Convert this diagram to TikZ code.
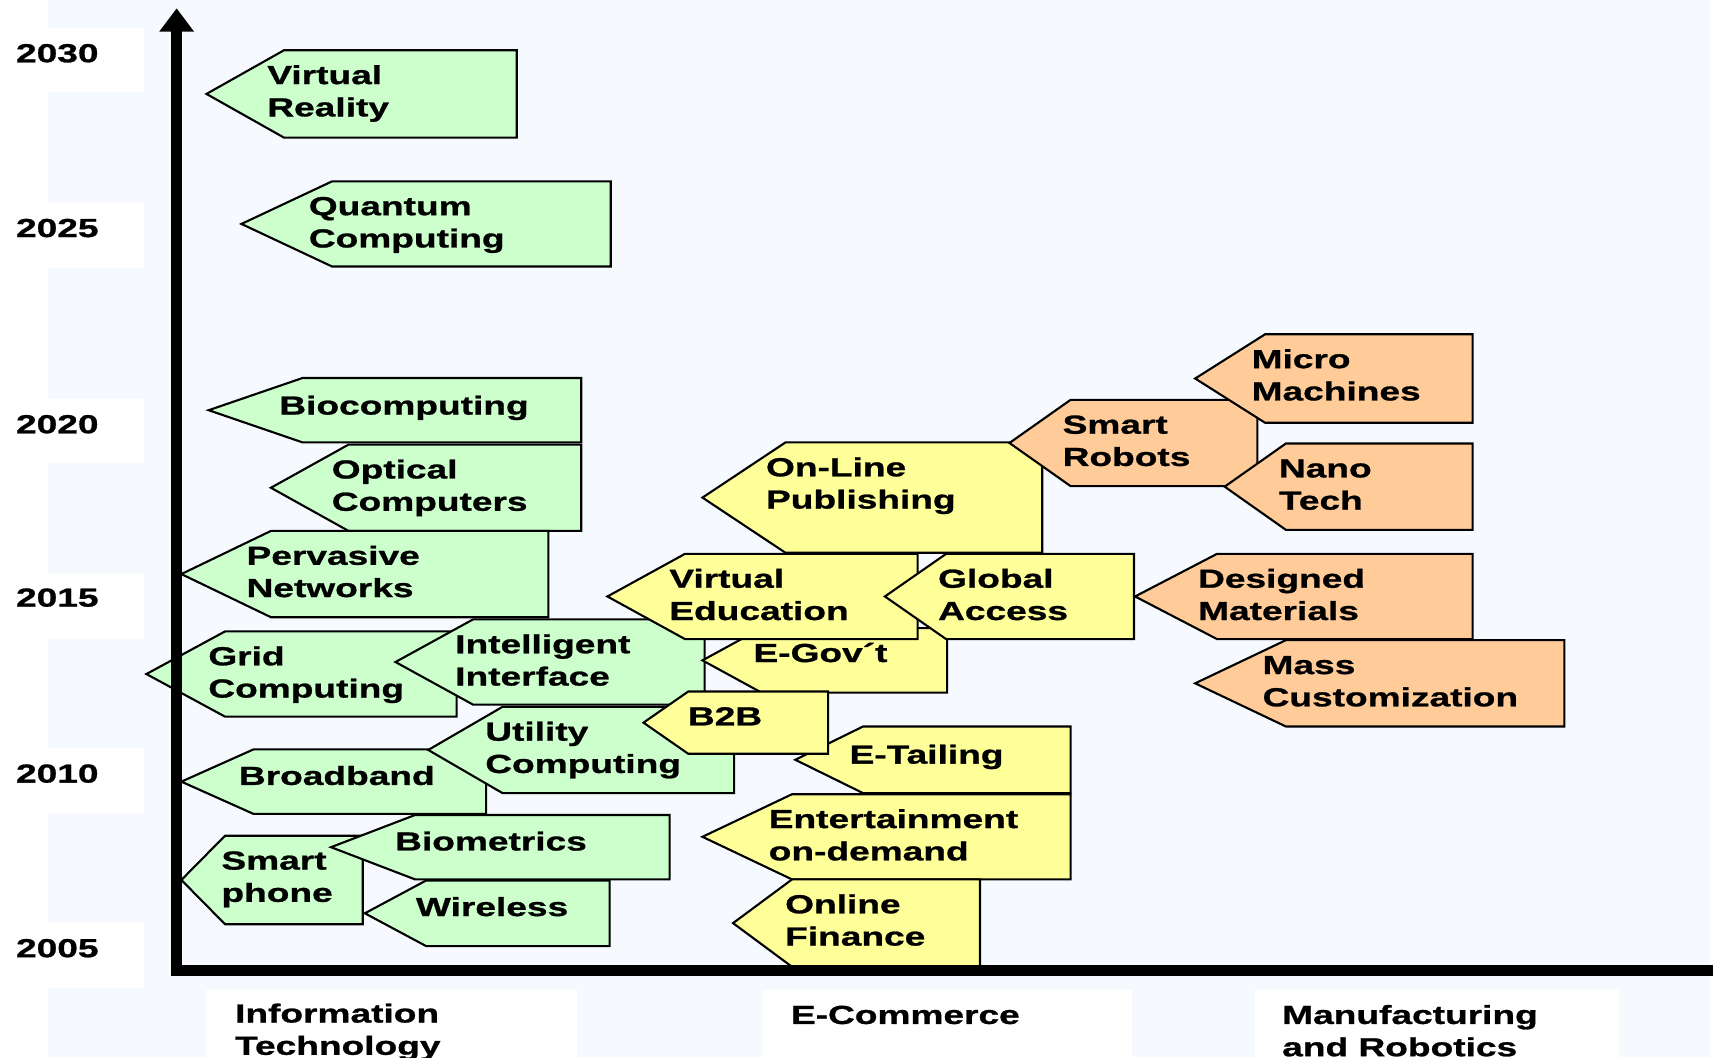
\documentclass[tikz,border=0pt]{standalone}
\usepackage{fontspec}
\newfontfamily\labfont{Liberation Sans Bold}[FakeStretch=1.42, FakeBold=1]
\usetikzlibrary{arrows.meta}
\definecolor{bgblue}{HTML}{F6FAFE}
\definecolor{tgreen}{HTML}{CCFFCC}
\definecolor{tyellow}{HTML}{FFFF99}
\definecolor{torange}{HTML}{FFCC99}
\newcommand\ml[1]{\begin{tabular}[t]{@{}l@{}}#1\end{tabular}}
\newcommand\tyoff{31}
% #1 name, #2 fill, #3 tip x, #4 corner x, #5 top, #6 right, #7 bottom, #8 text x, #9 text
\newcommand\tagbox[9]{%
  \filldraw[tagline, fill=#2] ({#3},{(#5+#7)/2}) -- ({#4},{#5}) -- ({#6},{#5}) -- ({#6},{#7}) -- ({#4},{#7}) -- cycle;
  \node[lab, anchor=base west] (#1) at ({#8},{#5+\tyoff}) {\ml{#9}};
}
\begin{document}
\begin{tikzpicture}[x=0.01cm, y=-0.01cm,
  tagline/.style={draw=black, line width=0.55pt, line join=miter},
  lab/.style={inner sep=0pt, font=\labfont\fontsize{6.8}{8.4}\selectfont},
  axis/.style={line width=0.1cm, line join=miter},
  whitebox/.style={fill=white, draw=none}]
\useasboundingbox (0,0) rectangle (1568,968);
\fill[bgblue] (43.8,0) rectangle (1565,968);
% year label boxes
\fill[whitebox] (0,26) rectangle (132,84);
\fill[whitebox] (0,185.5) rectangle (132,245);
\fill[whitebox] (0,365.5) rectangle (132,424);
\fill[whitebox] (0,525) rectangle (132,585);
\fill[whitebox] (0,685) rectangle (132,744.5);
\fill[whitebox] (0,843.6) rectangle (132,904.6);
\node[lab, anchor=base west] (y2030) at (14,57) {2030};
\node[lab, anchor=base west] (y2025) at (14,217) {2025};
\node[lab, anchor=base west] (y2020) at (14,396.6) {2020};
\node[lab, anchor=base west] (y2015) at (14,555.3) {2015};
\node[lab, anchor=base west] (y2010) at (14,716.4) {2010};
\node[lab, anchor=base west] (y2005) at (14,876.2) {2005};
% category boxes
\fill[whitebox] (189,906) rectangle (528.4,968);
\fill[whitebox] (697.3,906) rectangle (1036.4,968);
\fill[whitebox] (1149,906) rectangle (1481.6,968);
\node[lab, anchor=base west] (catit) at (214.5,936) {\ml{Information\\Technology}};
\node[lab, anchor=base west] (catec) at (723.3,937.3) {\ml{E-Commerce}};
\node[lab, anchor=base west] (catmr) at (1173,937.3) {\ml{Manufacturing\\and Robotics}};
% green: information technology
\tagbox{vr}{tgreen}{189}{260}{46}{473}{126}{244}{Virtual\\Reality}
\tagbox{qc}{tgreen}{221}{304}{166}{559}{244}{282}{Quantum\\Computing}
\renewcommand\tyoff{33.5}
\tagbox{bio}{tgreen}{191}{277}{346}{532}{405}{255}{Biocomputing}
\renewcommand\tyoff{31}
\tagbox{opt}{tgreen}{248}{319}{407}{532}{486}{303}{Optical\\Computers}
\tagbox{perv}{tgreen}{166}{248}{486}{502}{565}{225}{Pervasive\\Networks}
\tagbox{grid}{tgreen}{134}{206}{578}{418}{656}{190}{Grid\\Computing}
\tagbox{intel}{tgreen}{362}{433}{567}{645}{645}{416}{Intelligent\\Interface}
\renewcommand\tyoff{32.5}
\tagbox{broad}{tgreen}{166}{232}{686}{445}{745}{218}{Broadband}
\renewcommand\tyoff{31}
\tagbox{util}{tgreen}{392}{460}{647}{672}{726}{443.5}{Utility\\Computing}
\tagbox{sphone}{tgreen}{166}{206}{765}{332}{846}{202}{Smart\\phone}
\renewcommand\tyoff{32.5}
\tagbox{biom}{tgreen}{303}{380}{746}{613}{805}{361}{Biometrics}
\tagbox{wire}{tgreen}{334}{390}{806}{558}{866}{380}{Wireless}
\renewcommand\tyoff{31}
% yellow: e-commerce
\tagbox{olp}{tyellow}{643}{719}{405}{954}{506}{700.5}{On-Line\\Publishing}
\tagbox{egov}{tyellow}{643}{697}{575}{867}{634}{689}{E-Gov´t}
\tagbox{ved}{tyellow}{556}{627}{507}{840}{585}{612}{Virtual\\Education}
\tagbox{gac}{tyellow}{810}{866}{507}{1038}{585}{858}{Global\\Access}
\renewcommand\tyoff{34}
\tagbox{etail}{tyellow}{728}{790}{665}{980}{726}{777}{E-Tailing}
\renewcommand\tyoff{31}
\tagbox{b2b}{tyellow}{589}{630}{633}{758}{690}{629}{B2B}
\tagbox{ent}{tyellow}{643}{725}{727}{980}{805}{703}{Entertainment\\on-demand}
\tagbox{ofin}{tyellow}{671}{725}{805}{897}{885}{718}{Online\\Finance}
% orange: manufacturing and robotics
\tagbox{srob}{torange}{924}{980}{366}{1151}{445}{972}{Smart\\Robots}
\tagbox{micro}{torange}{1094}{1158}{306}{1348}{387}{1145}{Micro\\Machines}
\tagbox{nano}{torange}{1121}{1177}{406}{1348}{485}{1170}{Nano\\Tech}
\tagbox{desm}{torange}{1039}{1114}{507}{1348}{585}{1096}{Designed\\Materials}
\tagbox{mass}{torange}{1094}{1177}{586}{1432}{665}{1155}{Mass\\Customization}
% axes
\coordinate (origin) at (161.7,888);
\coordinate (ytip) at (161.7,7.6);
\coordinate (xend) at (1568,888);
\draw[axis, -{Triangle[length=0.214cm, width=0.304cm]}] (xend) -- (origin) -- (ytip);
\end{tikzpicture}
\end{document}
